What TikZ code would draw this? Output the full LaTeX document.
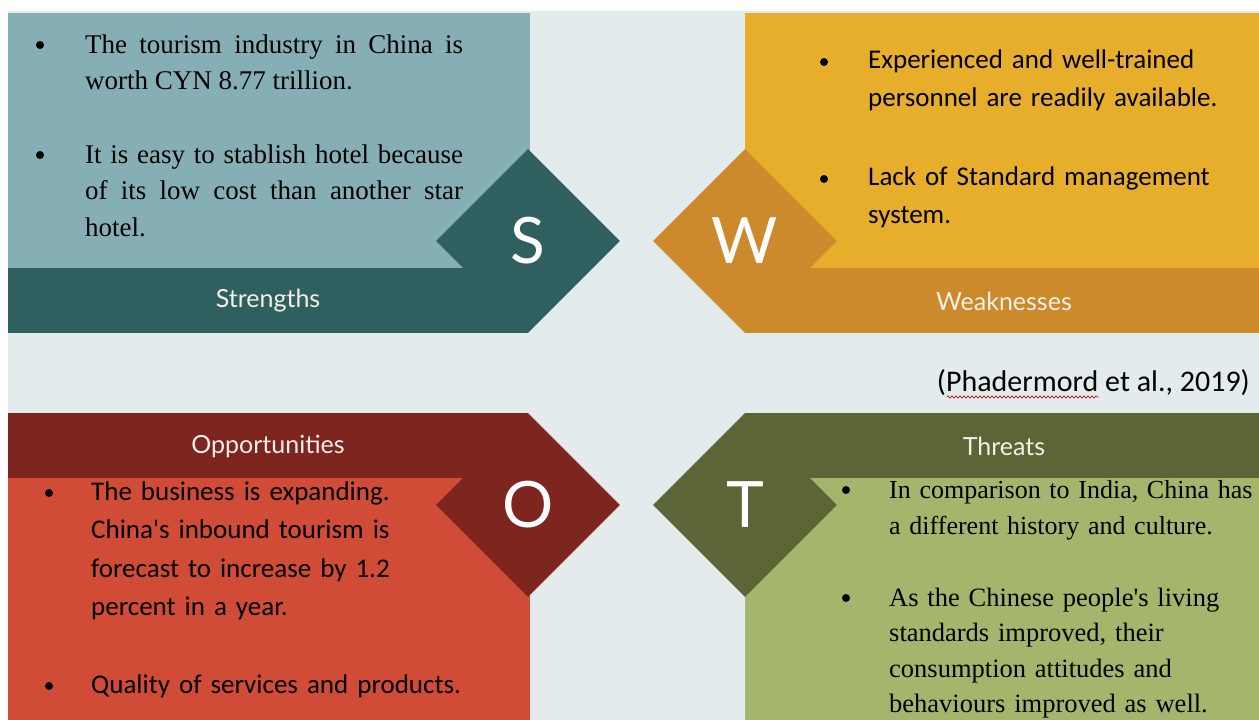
\documentclass[tikz,border=0pt]{standalone}
\usepackage{fontspec}
\setmainfont{Liberation Serif}
\newfontfamily\calibri{Carlito}
\newfontfamily\lato{Lato}
\usetikzlibrary{shapes.geometric,snakes}

\definecolor{bg}{HTML}{E3EBED}
\definecolor{slight}{HTML}{85AFB4}
\definecolor{sdark}{HTML}{2F5F5E}
\definecolor{wlight}{HTML}{E7AE2B}
\definecolor{wdark}{HTML}{CC8A2C}
\definecolor{olight}{HTML}{D04C37}
\definecolor{odark}{HTML}{7E2520}
\definecolor{tlight}{HTML}{A4B66B}
\definecolor{tdark}{HTML}{5C6536}
\definecolor{caption}{HTML}{F3F0E6}

\tikzset{
	badge/.style={diamond, minimum size=184pt, inner sep=0, text=white, font=\lato\fontsize{64}{64}\selectfont},
	title/.style={text=caption, font=\lato\fontsize{25}{25}\selectfont},
	times/.style={anchor=base west, inner sep=0, align=justify, font=\fontsize{27}{36.5}\selectfont},
	calib/.style={anchor=base west, inner sep=0, align=left, font=\calibri\fontsize{27}{38.5}\selectfont},
	bul/.style={circle, fill=black, inner sep=0, minimum size=8pt}
}

\begin{document}
\begin{tikzpicture}[x=1pt,y=-1pt]
	\useasboundingbox (0,0) rectangle (1259,720);
	\fill[white] (0,0) rectangle (1259,720);
	\fill[bg] (8,11) rectangle (1259,720);

	\fill[slight] (8,13) rectangle (530,268);
	\fill[sdark] (8,268) rectangle (528,333);
	\node[badge, fill=sdark] (S) at (528,241) {S};
	\node[title] (strengths) at (268,301) {Strengths};

	\fill[wlight] (745,13) rectangle (1259,268);
	\fill[wdark] (745,268) rectangle (1259,333);
	\node[badge, fill=wdark] (W) at (745,241) {W};
	\node[title] (weak) at (1004,301) {Weaknesses};

	\fill[olight] (8,478) rectangle (530,720);
	\fill[odark] (8,413) rectangle (528,478);
	\node[badge, fill=odark] (O) at (528,505) {O};
	\node[title] (opp) at (268,446) {Opportunities};

	\fill[tlight] (745,478) rectangle (1259,720);
	\fill[tdark] (745,413) rectangle (1259,478);
	\node[badge, fill=tdark] (T) at (745,505) {T};
	\node[title] (threats) at (1004,446) {Threats};

	\node[times, text width=378pt] (s1) at (85,53) {The tourism industry in China is\linebreak worth CYN 8.77 trillion.};
	\node[times, text width=378pt] (s2) at (85,163) {It is easy to stablish hotel because\linebreak of its low cost than another star\linebreak hotel.};
	\node[bul] (sb1) at ([shift={(-45,-8)}]s1.base west) {};
	\node[bul] (sb2) at ([shift={(-45,-8)}]s2.base west) {};

	\node[calib, text width=380pt] (w1) at (868,68) {Experienced and well-trained\\ personnel are readily available.};
	\node[calib, text width=380pt] (w2) at (868,185) {Lack of Standard management\\ system.};
	\node[bul] (wb1) at ([shift={(-44,-6)}]w1.base west) {};
	\node[bul] (wb2) at ([shift={(-44,-6)}]w2.base west) {};

	\node[calib, text width=420pt] (o1) at (91,500) {The business is expanding.\\ China\textquotesingle s inbound tourism is\\ forecast to increase by 1.2\\ percent in a year.};
	\node[calib, text width=420pt] (o2) at (91,693) {Quality of services and products.};
	\node[bul] (ob1) at ([shift={(-42,-7)}]o1.base west) {};
	\node[bul] (ob2) at ([shift={(-42,-7)}]o2.base west) {};

	\node[times, align=left, text width=420pt, font=\fontsize{26}{36.5}\selectfont] (t1) at (889,498) {In comparison to India, China has\\ a different history and culture.};
	\node[times, align=left, text width=420pt, font=\fontsize{26.5}{35.5}\selectfont] (t2) at (889,606) {As the Chinese people\textquotesingle s living\\ standards improved, their\\ consumption attitudes and\\ behaviours improved as well.};
	\node[bul] (tb1) at ([shift={(-43,-8)}]t1.base west) {};
	\node[bul] (tb2) at ([shift={(-43,-8)}]t2.base west) {};

	\node[anchor=base east, inner sep=0, font=\calibri\fontsize{30}{30}\selectfont] (cite) at (1250,391) {(Phadermord et al., 2019)};
	\draw[red!80!black, line width=0.6pt, snake=snake, segment amplitude=1.2pt, segment length=4pt] ([shift={(10,6)}]cite.base west) -- ++(152,0);
\end{tikzpicture}
\end{document}
